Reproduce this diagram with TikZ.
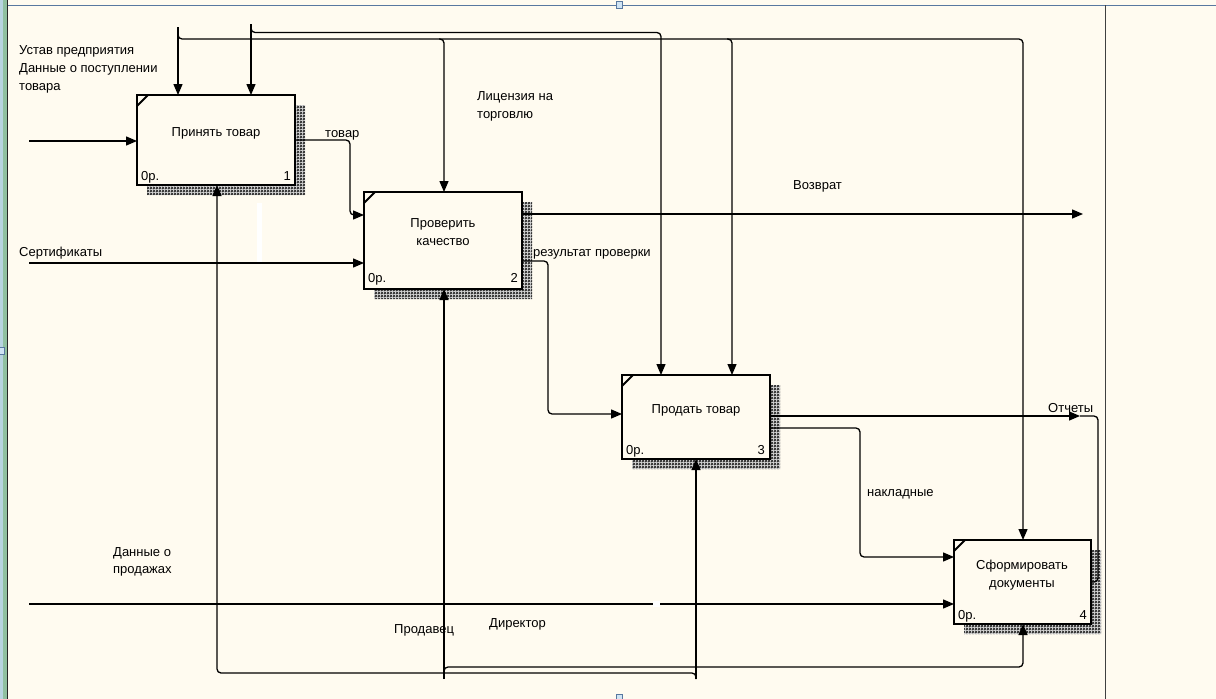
\documentclass[tikz,border=0pt]{standalone}
\usepackage{fontspec}
\setmainfont{Liberation Sans}
\usetikzlibrary{arrows.meta,patterns}
\pgfdeclarepatternformonly{xhatch}{\pgfpointorigin}{\pgfqpoint{3pt}{3pt}}{\pgfqpoint{3pt}{3pt}}{%
  \pgfsetlinewidth{1pt}%
  \pgfpathmoveto{\pgfqpoint{0pt}{0pt}}\pgfpathlineto{\pgfqpoint{3pt}{3pt}}%
  \pgfpathmoveto{\pgfqpoint{0pt}{3pt}}\pgfpathlineto{\pgfqpoint{3pt}{0pt}}%
  \pgfusepath{stroke}%
}
\definecolor{bg}{HTML}{FFFBF0}
\definecolor{topline}{HTML}{5878A0}
\definecolor{edgeblue}{HTML}{B8D4E0}
\definecolor{edgegreen}{HTML}{90C0A0}
\definecolor{handle}{HTML}{D0E4F4}
\begin{document}
\begin{tikzpicture}[x=1pt,y=-1pt,
  box/.style={draw, line width=2.4pt, fill=bg, inner sep=0pt, outer sep=0pt, anchor=north west},
  shade/.style={pattern=xhatch, pattern color=black!80},
  ln/.style={line width=1.3pt, rounded corners=4pt},
  arr/.style={ln, -{Triangle[length=11pt,width=9pt]}},
  txt/.style={inner sep=0pt, font=\fontsize{13}{15}\selectfont},
  lbl/.style={txt, anchor=base west},
  ctr/.style={txt, anchor=base},
  num/.style={txt, anchor=base east},
  tick/.style={line width=2pt}
]
\useasboundingbox (0,0) rectangle (1216,699);
\fill[bg] (0,0) rectangle (1216,699);
% window decoration
\fill[edgeblue] (0,0) rectangle (2.5,699);
\fill[black!55] (2.5,0) rectangle (3.3,699);
\fill[edgegreen] (3.3,0) rectangle (6.7,699);
\fill[black!85] (6.7,0) rectangle (8.3,699);
\draw[topline, line width=1pt] (8,5) -- (1216,5);
\draw[black!75, line width=1.2pt] (1105.5,5) -- (1105.5,699);
\filldraw[fill=handle, draw=topline, line width=0.6pt] (616,1) rectangle (622,8);
\filldraw[fill=handle, draw=topline, line width=0.6pt] (-1,347) rectangle (4,354);
\filldraw[fill=handle, draw=topline, line width=0.6pt] (616,694) rectangle (622,701);

% shadows
\fill[white] (295,105) rectangle (305,195) (147,185) rectangle (305,195);
\fill[shade] (295,105) rectangle (305,195) (147,185) rectangle (305,195);
\fill[white] (522,202) rectangle (532,299) (374,289) rectangle (532,299);
\fill[shade] (522,202) rectangle (532,299) (374,289) rectangle (532,299);
\fill[white] (770,385) rectangle (780,469) (632,459) rectangle (780,469);
\fill[shade] (770,385) rectangle (780,469) (632,459) rectangle (780,469);
\fill[white] (1091,550) rectangle (1101,634) (964,624) rectangle (1101,634);
\fill[shade] (1091,550) rectangle (1101,634) (964,624) rectangle (1101,634);

% boxes
\node[box, minimum width=158pt, minimum height=90pt] (b1) at (137,95) {};
\node[box, minimum width=158pt, minimum height=97pt] (b2) at (364,192) {};
\node[box, minimum width=148pt, minimum height=84pt] (b3) at (622,375) {};
\node[box, minimum width=137pt, minimum height=84pt] (b4) at (954,540) {};
\draw[tick] ([yshift=-11pt]b1.north west) -- ([xshift=11pt]b1.north west);
\draw[tick] ([yshift=-11pt]b2.north west) -- ([xshift=11pt]b2.north west);
\draw[tick] ([yshift=-11pt]b3.north west) -- ([xshift=11pt]b3.north west);
\draw[tick] ([yshift=-11pt]b4.north west) -- ([xshift=11pt]b4.north west);

% box texts
\node[ctr] (t1) at (216,136) {Принять товар};
\node[lbl] (c1) at (141,180) {0р.};
\node[num] (n1) at (291,180) {1};
\node[ctr] (t2a) at (443,227) {Проверить};
\node[ctr] (t2b) at (443,245) {качество};
\node[lbl] (c2) at (368,282) {0р.};
\node[num] (n2) at (518,282) {2};
\node[ctr] (t3) at (696,413) {Продать товар};
\node[lbl] (c3) at (626,454) {0р.};
\node[num] (n3) at (765,454) {3};
\node[ctr] (t4a) at (1022,569) {Сформировать};
\node[ctr] (t4b) at (1022,587) {документы};
\node[lbl] (c4) at (958,619) {0р.};
\node[num] (n4) at (1087,619) {4};

% coordinates
\coordinate (ctA) at (178,27);
\coordinate (ctB) at (251,24);
\coordinate (jA) at (178,33);
\coordinate (jB) at (251,27);
\coordinate (xb4) at (1023,39);
\coordinate (xb3) at (661,32.5);
\coordinate (k2) at (439,39);
\coordinate (tt2) at (444,39);
\coordinate (k3) at (727,39);
\coordinate (tt3) at (732,39);
\coordinate (in1) at (29,141);
\coordinate (w1) at (350,215);
\coordinate (in2) at (29,263);
\coordinate (o2) at (1083,214);
\coordinate (h2) at (548,261);
\coordinate (w2) at (548,414);
\coordinate (o3) at (1080,416);
\coordinate (q1) at (1098,416);
\coordinate (q2) at (1098,582);
\coordinate (h3) at (860,428);
\coordinate (w3) at (860,557);
\coordinate (in4) at (29,604);
\coordinate (m2) at (444,679);
\coordinate (m3) at (696,679);
\coordinate (jm2) at (444,675);
\coordinate (u4) at (1023,667);
\coordinate (c696) at (696,673);
\coordinate (l1) at (217,673);

% controls
\draw[arr] (ctA) -- (ctA |- b1.north);
\draw[arr] (ctB) -- (ctB |- b1.north);
\draw[arr] (jA) |- (xb4) -- (xb4 |- b4.north);
\draw[arr] (jB) |- (xb3) -- (xb3 |- b3.north);
\draw[arr] (k2) -- (tt2) -- (tt2 |- b2.north);
\draw[arr] (k3) -- (tt3) -- (tt3 |- b3.north);

% inputs / outputs
\draw[arr] (in1) -- (in1 -| b1.west);
\draw[arr] (b1.east) -| (w1) -- (w1 -| b2.west);
\draw[arr] (in2) -- (in2 -| b2.west);
\draw[arr] (o2 -| b2.east) -- (o2);
\draw[arr] (b2.east |- h2) -- (h2) -- (w2) -- (w2 -| b3.west);
\draw[arr] (b3.east |- o3) -- (o3);
\draw[ln] (o3) -- (q1) -- (q2) -- (q2 -| b4.east);
\draw[arr] (b3.east |- h3) -- (h3) -- (w3) -- (w3 -| b4.west);
\draw[arr] (in4) -- (in4 -| b4.west);
\fill[white] (653,601) rectangle (660,607);

% mechanisms
\draw[arr] (m2) -- (m2 |- b2.south);
\draw[arr] (m3) -- (m3 |- b3.south);
\draw[arr] (jm2) |- (u4) -- (u4 |- b4.south);
\draw[arr] (m3) -- (c696) -- (l1) -- (l1 |- b1.south);

% screen artifact
\fill[white] (257,203) rectangle (262,262);

% labels
\node[lbl] (L1) at (19,54) {Устав предприятия};
\node[lbl] (L2) at (19,72) {Данные о поступлении};
\node[lbl] (L3) at (19,90) {товара};
\node[lbl] (L4) at (325,137) {товар};
\node[lbl] (L5) at (477,100) {Лицензия на};
\node[lbl] (L6) at (477,118) {торговлю};
\node[lbl] (L7) at (793,189) {Возврат};
\node[lbl] (L8) at (19,256) {Сертификаты};
\node[lbl] (L9) at (533,256) {результат проверки};
\node[lbl] (L10) at (1048,412) {Отчеты};
\node[lbl] (L11) at (867,496) {накладные};
\node[lbl] (L12) at (113,556) {Данные о};
\node[lbl] (L13) at (113,573) {продажах};
\node[lbl] (L14) at (394,633) {Продавец};
\node[lbl] (L15) at (489,627) {Директор};
\end{tikzpicture}
\end{document}
